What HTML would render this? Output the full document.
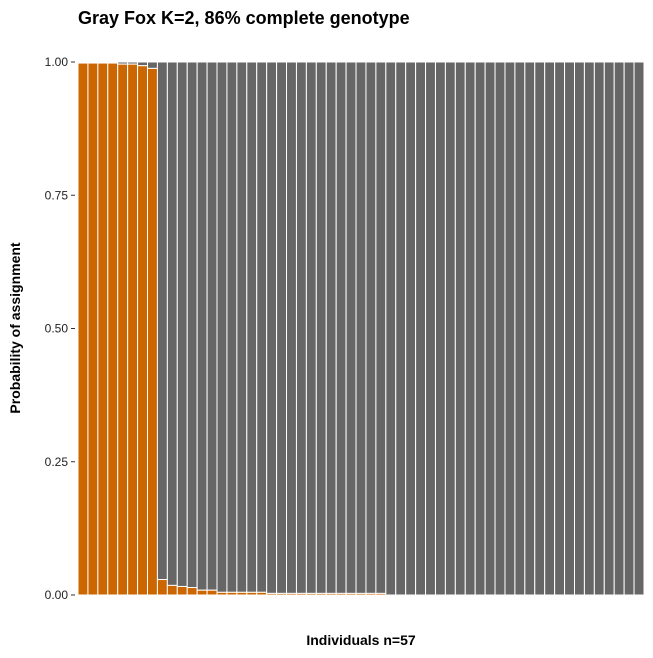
<!DOCTYPE html>
<html><head><meta charset="utf-8"><style>
body{margin:0;background:#fff;font-family:"Liberation Sans",Arial,sans-serif}
</style></head><body>
<svg width="653" height="653" xmlns="http://www.w3.org/2000/svg">
<text x="78" y="24" font-size="18" font-weight="bold">Gray Fox K=2, 86% complete genotype</text>
<g id="bars"></g>
<g id="yaxis"></g>
<text x="361" y="645" font-size="14" font-weight="bold" text-anchor="middle">Individuals n=57</text>
<text transform="translate(20,328) rotate(-90)" font-size="14" font-weight="bold" text-anchor="middle">Probability of assignment</text>
</svg>
<script>
const cluster1 = [0.998,0.998,0.998,0.998,0.996,0.996,0.993,0.988,0.029,0.018,0.016,0.014,0.009,0.009,0.005,0.005,0.005,0.005,0.005,0.003,0.003,0.003,0.003,0.003,0.003,0.003,0.003,0.003,0.003,0.003,0.003,0,0,0,0,0,0,0,0,0,0,0,0,0,0,0,0,0,0,0,0,0,0,0,0,0,0];
const yTicks = [0,0.25,0.5,0.75,1];
const yTickLabels = ["0.00","0.25","0.50","0.75","1.00"];
const NS="http://www.w3.org/2000/svg";
const x0=78,x1=644,yTop=62,yBot=595;
const n=cluster1.length, bw=(x1-x0)/n;
const y=v=>yBot-(yBot-yTop)*v;
const bars=document.getElementById('bars');
cluster1.forEach((v,i)=>{
  const gx=x0+i*bw;
  const g=document.createElementNS(NS,'rect');
  
  
  g.setAttribute('x',gx);g.setAttribute('y',y(1));g.setAttribute('width',bw);g.setAttribute('height',y(v)-y(1));
  g.setAttribute('fill','#666666');g.setAttribute('stroke','#fff');g.setAttribute('stroke-width','1');
  bars.appendChild(g);
  if(v>0){
    const o=document.createElementNS(NS,'rect');
    
    
    o.setAttribute('x',gx);o.setAttribute('y',y(v));o.setAttribute('width',bw);o.setAttribute('height',yBot-y(v));
    o.setAttribute('fill','#CC6600');o.setAttribute('stroke','#fff');o.setAttribute('stroke-width','1');
    bars.appendChild(o);
  }
});
const ya=document.getElementById('yaxis');
yTicks.forEach((t,i)=>{
  const l=document.createElementNS(NS,'line');
  
  
  l.setAttribute('x1',71);l.setAttribute('x2',75);l.setAttribute('y1',y(t));l.setAttribute('y2',y(t));
  l.setAttribute('stroke','#333');
  ya.appendChild(l);
  const tx=document.createElementNS(NS,'text');
  
  
  tx.setAttribute('x',68);tx.setAttribute('y',y(t)+4);tx.setAttribute('text-anchor','end');
  tx.setAttribute('font-size','12');tx.setAttribute('fill','#222');
  tx.textContent=yTickLabels[i];
  ya.appendChild(tx);
});
</script>
</body></html>
